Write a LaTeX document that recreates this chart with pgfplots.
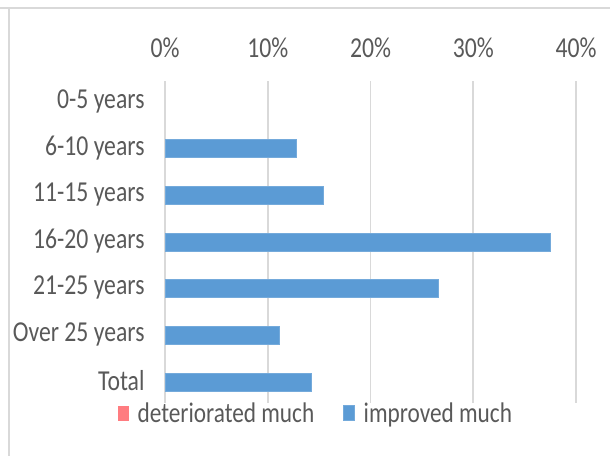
\documentclass[border=0pt]{standalone}
\usepackage{pgfplots}
\pgfplotsset{compat=1.18}
\usepackage{fontspec}
\setmainfont[FakeStretch=0.82]{Carlito}
\definecolor{barblue}{HTML}{5B9BD5}
\definecolor{barpink}{HTML}{FF7C80}
\definecolor{txtgray}{HTML}{595959}
\definecolor{gridgray}{HTML}{D9D9D9}
\begin{document}
\begin{tikzpicture}
\path[use as bounding box] (0,0) rectangle (610bp,-456bp);
\draw[gridgray, line width=2bp] (0,-8bp) -- (610bp,-8bp);
\draw[gridgray, line width=2bp] (9bp,-8bp) -- (9bp,-456bp);
\begin{axis}[
  at={(165bp,-403bp)}, anchor=south west,
  scale only axis, width=411bp, height=322bp,
  xbar stacked, bar width=18bp,
  xmin=0, xmax=40,
  ymin=-0.45, ymax=6.45, y dir=reverse,
  ytick={0,1,2,3,4,5,6},
  yticklabels={0-5 years,6-10 years,11-15 years,16-20 years,21-25 years,Over 25 years,Total},
  xtick={0,10,20,30,40},
  xticklabels={0\%,10\%,20\%,30\%,40\%},
  xticklabel pos=upper,
  major tick length=0pt,
  axis line style={draw=none},
  xmajorgrids, grid style={gridgray, line width=1.6bp},
  font=\fontsize{29}{34}\selectfont,
  tick label style={text=txtgray},
  xticklabel style={yshift=20bp},
  yticklabel style={xshift=-17bp, yshift=1bp},
  legend style={at={(0.367,-0.033)}, anchor=center, legend columns=2, draw=none, fill=none,
    text=txtgray, font=\fontsize{28.5}{32}\selectfont,
    /tikz/every odd column/.append style={column sep=7bp},
    /tikz/every even column/.append style={column sep=27bp}},
  legend cell align=left,
  legend image code/.code={\fill[#1] (0bp,-7bp) rectangle (11bp,8bp);},
]
\addplot[fill=barpink, draw=none] coordinates {(0,0) (0,1) (0,2) (0,3) (0,4) (0,5) (0,6)};
\addlegendentry{deteriorated much}
\addplot[fill=barblue, draw=barblue!85!white] coordinates {(0,0) (12.8,1) (15.4,2) (37.5,3) (26.6,4) (11.1,5) (14.2,6)};
\addlegendentry{improved much}
\end{axis}
\end{tikzpicture}
\end{document}
